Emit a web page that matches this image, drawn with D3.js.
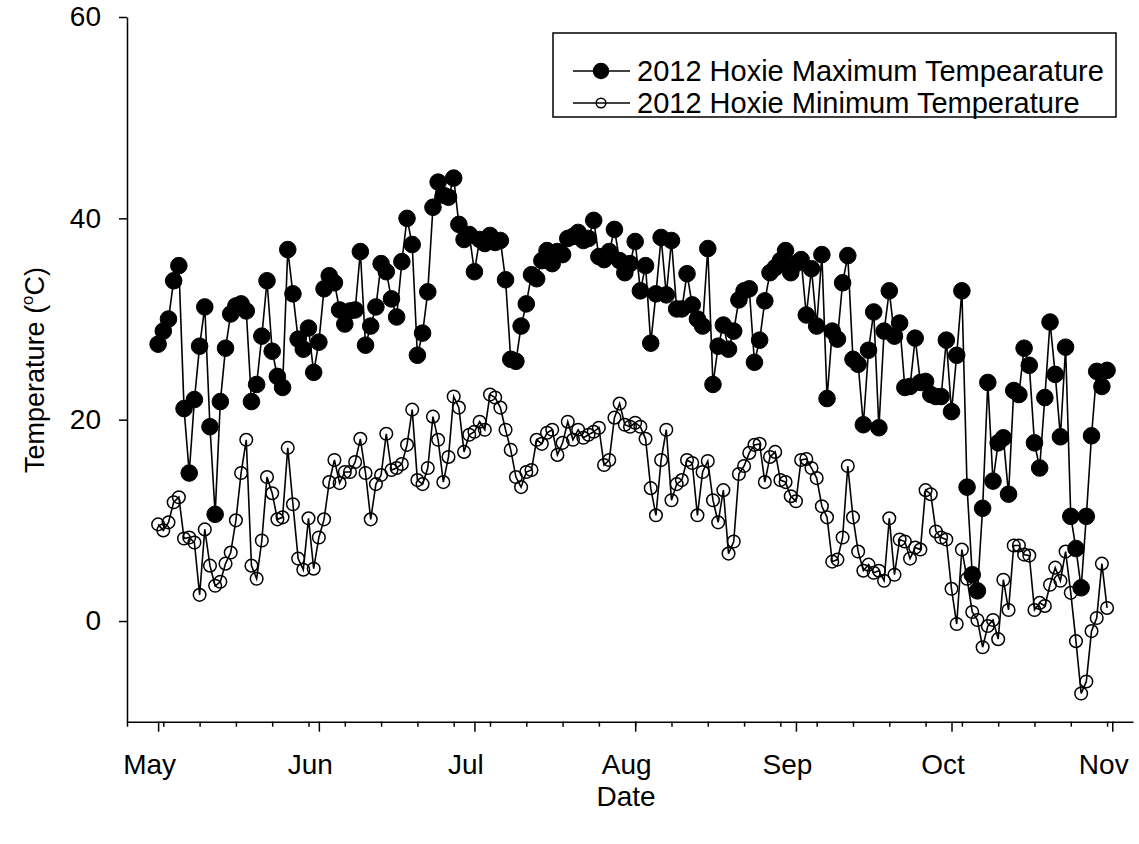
<!DOCTYPE html>
<html><head><meta charset="utf-8">
<script src="https://cdn.jsdelivr.net/npm/d3@7"></script>
<style>
body{margin:0;background:#fff}
text{font-family:"Liberation Sans",Arial,sans-serif;fill:#000}
</style>
</head><body>
<svg id="chart" width="1139" height="844"></svg>
<script>
// Daily series for Hoxie, 1 May – 31 Oct 2012 (°C)
const firstDay = "2012-05-01";
const maxTemp = [
27.5, 28.8, 30.0, 33.8, 35.3, 21.1, 14.7, 22.0, 27.3, 31.2,
19.3, 10.6, 21.8, 27.1, 30.5, 31.3, 31.5, 30.8, 21.8, 23.5,
28.3, 33.8, 26.8, 24.3, 23.2, 36.9, 32.5, 28.0, 27.0, 29.1,
24.7, 27.7, 33.0, 34.3, 33.6, 30.9, 29.5, 30.8, 30.9, 36.7,
27.4, 29.3, 31.2, 35.5, 34.7, 32.0, 30.2, 35.7, 40.0, 37.4,
26.4, 28.6, 32.7, 41.1, 43.6, 42.3, 42.1, 44.0, 39.4, 37.9,
38.4, 34.7, 37.9, 37.5, 38.3, 37.6, 37.8, 33.9, 26.0, 25.8,
29.3, 31.5, 34.4, 34.0, 35.8, 36.8, 35.5, 36.7, 36.4, 38.0,
38.2, 38.6, 37.8, 38.0, 39.8, 36.2, 35.9, 36.7, 38.9, 35.8,
34.6, 35.5, 37.7, 32.8, 35.3, 27.6, 32.5, 38.1, 32.4, 37.8,
31.0, 31.0, 34.5, 31.4, 30.0, 29.3, 37.0, 23.5, 27.3, 29.4,
27.0, 28.8, 31.9, 32.8, 33.0, 25.7, 27.9, 31.8, 34.6, 35.1,
35.8, 36.8, 34.6, 35.5, 35.9, 30.4, 35.0, 29.3, 36.4, 22.1,
28.8, 28.0, 33.6, 36.3, 26.0, 25.5, 19.5, 26.9, 30.7, 19.2,
28.8, 32.8, 28.3, 29.6, 23.2, 23.3, 28.1, 23.7, 23.8, 22.5,
22.3, 22.3, 27.9, 20.8, 26.4, 32.8, 13.3, 4.6, 3.0, 11.2,
23.7, 13.9, 17.7, 18.2, 12.6, 22.9, 22.5, 27.1, 25.4, 17.7,
15.2, 22.2, 29.7, 24.5, 18.3, 27.2, 10.4, 7.2, 3.3, 10.4,
18.4, 24.8, 23.3, 24.9
];
const minTemp = [
9.6, 9.0, 9.8, 11.8, 12.3, 8.2, 8.3, 7.8, 2.6, 9.1,
5.5, 3.5, 3.9, 5.7, 6.8, 10.0, 14.7, 18.0, 5.5, 4.2,
8.0, 14.3, 12.7, 10.1, 10.3, 17.2, 11.6, 6.2, 5.1, 10.2,
5.2, 8.3, 10.1, 13.8, 16.0, 13.7, 14.8, 14.8, 15.8, 18.1,
14.7, 10.1, 13.6, 14.5, 18.6, 15.0, 15.2, 15.6, 17.5, 21.0,
14.0, 13.6, 15.2, 20.3, 18.0, 13.8, 16.3, 22.3, 21.2, 16.8,
18.5, 18.8, 19.8, 19.0, 22.5, 22.2, 21.2, 19.0, 17.0, 14.3,
13.3, 14.8, 15.0, 18.0, 17.6, 18.7, 19.0, 16.5, 17.7, 19.8,
18.0, 19.0, 18.2, 18.5, 18.8, 19.2, 15.5, 16.0, 20.2, 21.6,
19.5, 19.3, 19.7, 19.3, 18.1, 13.2, 10.5, 16.0, 19.0, 12.0,
13.6, 14.0, 16.0, 15.7, 10.5, 14.8, 15.9, 12.0, 9.8, 13.0,
6.7, 7.9, 14.6, 15.4, 16.7, 17.5, 17.6, 13.8, 16.3, 16.8,
14.0, 13.8, 12.4, 11.9, 16.0, 16.1, 15.2, 14.2, 11.4, 10.3,
5.9, 6.1, 8.3, 15.4, 10.3, 6.9, 5.0, 5.6, 4.8, 5.0,
4.0, 10.2, 4.6, 8.1, 7.9, 6.2, 7.3, 7.1, 13.0, 12.6,
8.9, 8.3, 8.1, 3.2, -0.3, 7.1, 4.2, 0.9, 0.1, -2.6,
-0.5, 0.1, -1.8, 4.1, 1.1, 7.5, 7.5, 6.6, 6.5, 1.1,
1.8, 1.5, 3.6, 5.3, 4.0, 6.9, 2.8, -2.0, -7.2, -6.0,
-1.0, 0.3, 5.7, 1.3
];
const monthTicks = ["2012-05-01","2012-06-01","2012-07-01","2012-08-01","2012-09-01","2012-10-01","2012-11-01"];
const monthLabels = ["May","Jun","Jul","Aug","Sep","Oct","Nov"];
const yTickValues = [0, 20, 40, 60];
const seriesNames = ["2012 Hoxie Maximum Tempearature", "2012 Hoxie Minimum Temperature"];

const parse = d3.timeParse("%Y-%m-%d");
const day0 = parse(firstDay);
const dayOf = i => d3.timeDay.offset(day0, i);

const svg = d3.select("#chart");
const FONT = 27;

const x = d3.scaleTime()
  .domain([parse("2012-04-25"), parse("2012-11-05")])
  .range([127, 1133]);
const y = d3.scaleLinear().domain([-10, 60]).range([721.7, 17]);

// weekly minor ticks (Wednesdays)
const minor = d3.timeWednesday.range(parse("2012-04-25"), parse("2012-11-05"));
svg.append("g")
  .attr("transform", `translate(0,${y(-10)})`)
  .call(d3.axisBottom(x).tickValues(minor).tickSize(5).tickSizeOuter(0).tickFormat(""))
  .call(g => g.select(".domain").remove())
  .call(g => g.selectAll("line").attr("stroke-width", 1.5));

// month axis
const xAxis = svg.append("g")
  .attr("transform", `translate(0,${y(-10)})`)
  .call(d3.axisBottom(x).tickValues(monthTicks.map(parse)).tickSize(10).tickSizeOuter(0)
    .tickFormat((d, i) => monthLabels[i]));
xAxis.select(".domain").attr("stroke-width", 1.5);
xAxis.selectAll("line").attr("stroke-width", 1.5);
xAxis.selectAll("text").attr("font-size", 28).attr("dy", "1.4em").attr("dx", -9)
  .style("font-family", "'Liberation Sans',Arial,sans-serif");

// temperature axis
const yAxis = svg.append("g")
  .attr("transform", `translate(127,0)`)
  .call(d3.axisLeft(y).tickValues(yTickValues).tickSize(8).tickSizeOuter(0));
yAxis.select(".domain").attr("stroke-width", 1.5);
yAxis.selectAll("line").attr("stroke-width", 1.5);
yAxis.selectAll("text").attr("font-size", 28).attr("x", -26)
  .style("font-family", "'Liberation Sans',Arial,sans-serif");

// axis titles
svg.append("text").attr("x", 626).attr("y", 806).attr("text-anchor", "middle")
  .attr("font-size", 28).text("Date");
const yt = svg.append("text").attr("transform", "translate(44,370) rotate(-90)")
  .attr("text-anchor", "middle").attr("font-size", FONT);
yt.append("tspan").text("Temperature (");
yt.append("tspan").attr("font-size", FONT * 0.62).attr("dy", -11).text("o");
yt.append("tspan").attr("dy", 11).text("C)");

// series
const line = d3.line().x((d, i) => x(dayOf(i))).y(d => y(d));
function drawSeries(values, filled, r) {
  const g = svg.append("g");
  g.append("path").datum(values).attr("d", line)
    .attr("fill", "none").attr("stroke", "#000").attr("stroke-width", 1.6);
  g.selectAll("circle").data(values).join("circle")
    .attr("cx", (d, i) => x(dayOf(i))).attr("cy", d => y(d)).attr("r", r)
    .attr("fill", filled ? "#000" : "none")
    .attr("stroke", "#000").attr("stroke-width", filled ? 1 : 1.5);
}
drawSeries(minTemp, false, 6.3);
drawSeries(maxTemp, true, 8.3);

// legend
const lg = svg.append("g");
lg.append("rect").attr("x", 553).attr("y", 33).attr("width", 563).attr("height", 84)
  .attr("fill", "#fff").attr("stroke", "#000").attr("stroke-width", 1.5);
[[71, true, 7.5], [103, false, 4.8]].forEach(([ly, filled, r], k) => {
  lg.append("line").attr("x1", 573).attr("x2", 630).attr("y1", ly).attr("y2", ly)
    .attr("stroke", "#000").attr("stroke-width", 1.5);
  lg.append("circle").attr("cx", 601).attr("cy", ly).attr("r", r)
    .attr("fill", filled ? "#000" : "none").attr("stroke", "#000").attr("stroke-width", 1.5);
  lg.append("text").attr("x", 637).attr("y", ly).attr("dy", "0.35em")
    .attr("font-size", 29).text(seriesNames[k]);
});
</script>
</body></html>
